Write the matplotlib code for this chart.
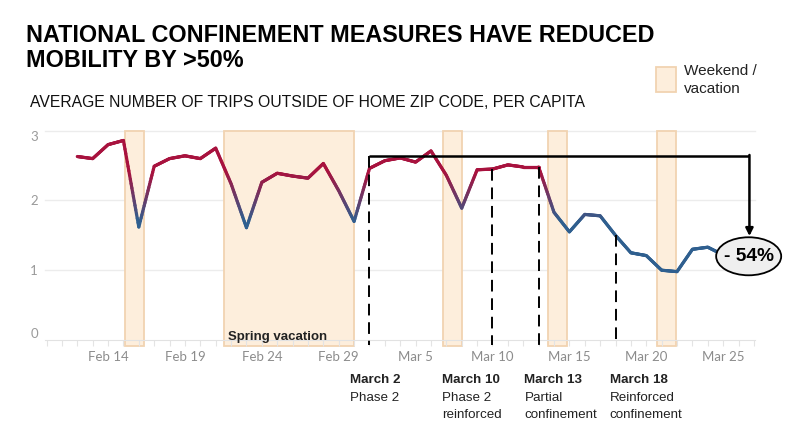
import numpy as np
import matplotlib
matplotlib.use("Agg")
import matplotlib.pyplot as plt
import matplotlib.dates as mdates
from matplotlib.collections import LineCollection
from matplotlib.colors import LinearSegmentedColormap, Normalize
from matplotlib.patches import Ellipse, Rectangle

plt.rcParams['font.family'] = ['Liberation Sans', 'DejaVu Sans']

# daily average trips outside home zip code, per capita
dates = np.arange(np.datetime64('2020-02-12'), np.datetime64('2020-03-26'))
trips = [2.63, 2.60, 2.80, 2.86, 1.62, 2.49, 2.60, 2.64, 2.60, 2.75,
         2.24, 1.61, 2.26, 2.39, 2.35, 2.32, 2.53, 2.14, 1.70, 2.46,
         2.57, 2.61, 2.55, 2.71, 2.36, 1.89, 2.44, 2.45, 2.51, 2.48,
         2.48, 1.83, 1.55, 1.80, 1.78, 1.50, 1.25, 1.21, 1.00, 0.98,
         1.30, 1.33, 1.22]

tick_dates = ['2020-02-14', '2020-02-19', '2020-02-24', '2020-02-29', '2020-03-05',
              '2020-03-10', '2020-03-15', '2020-03-20', '2020-03-25']
tick_labels = ['Feb 14', 'Feb 19', 'Feb 24', 'Feb 29', 'Mar 5',
               'Mar 10', 'Mar 15', 'Mar 20', 'Mar 25']

weekend_start = ['2020-02-15T02:00', '2020-03-06T18:00', '2020-03-13T14:00', '2020-03-20T16:00']
weekend_end = ['2020-02-16T08:00', '2020-03-08T01:00', '2020-03-14T21:00', '2020-03-21T22:00']
vacation_start = '2020-02-21T13:00'
vacation_end = '2020-03-01T00:00'

event_dates = ['2020-03-02', '2020-03-10', '2020-03-13', '2020-03-18']
event_titles = ['March 2', 'March 10', 'March 13', 'March 18']
event_texts = [['Phase 2'], ['Phase 2', 'reinforced'],
               ['Partial', 'confinement'], ['Reinforced', 'confinement']]

ref_level = 2.64
drop_label = '- 54%'

RED = '#a8123e'
BLUE = '#2f5f8f'
BAND = '#fdeedc'
BAND_EDGE = '#f1d3b1'


def d2n(s):
    return mdates.date2num(np.datetime64(s))


def px(x, y):
    return x / 788, 1 - y / 442


fig = plt.figure(figsize=(7.88, 4.42), dpi=100)
ax = fig.add_axes([45 / 788, 1 - 340 / 442, 710 / 788, 209.3 / 442])

x0 = d2n('2020-02-14')
ax.set_xlim(x0 - 4.1, x0 + 42.07)
ax.set_ylim(0, 3)

# weekend / vacation bands
below = -6 / 209.3
for s, e in zip(weekend_start + [vacation_start], weekend_end + [vacation_end]):
    ax.axvspan(d2n(s), d2n(e), ymin=below, ymax=1, facecolor=BAND,
               edgecolor=BAND_EDGE, lw=1.3, clip_on=False, zorder=1)
ax.text(d2n(vacation_start) + 0.28, 0.047, 'Spring vacation', fontsize=9.5,
        fontweight='bold', color='#222222', va='center', ha='left', zorder=3)

# gradient coloured line
xn = mdates.date2num(dates)
yv = np.array(trips)
segs, vals = [], []
for i in range(len(xn) - 1):
    t = np.linspace(0, 1, 21)
    xs = xn[i] + (xn[i + 1] - xn[i]) * t
    ys = yv[i] + (yv[i + 1] - yv[i]) * t
    for k in range(20):
        segs.append([(xs[k], ys[k]), (xs[k + 1], ys[k + 1])])
        vals.append((ys[k] + ys[k + 1]) / 2)
cmap = LinearSegmentedColormap.from_list('rb', [BLUE, RED])
lc = LineCollection(segs, cmap=cmap, norm=Normalize(1.7, 2.4), lw=2.3,
                    capstyle='round', joinstyle='round', zorder=4)
lc.set_array(np.array(vals))
ax.add_collection(lc)

# dashed event lines
for i, d in enumerate(event_dates):
    xd = d2n(d)
    top = ref_level if i == 0 else trips[list(dates).index(np.datetime64(d))]
    ax.plot([xd, xd], [top, -0.07], color='black', lw=1.4, ls=(0, (6, 3.5)),
            clip_on=False, zorder=5)

# bracket + arrow to the latest level
x_end = d2n('2020-03-26T17:00')
ax.plot([d2n(event_dates[0]), x_end], [ref_level, ref_level], color='black',
        lw=1.8, solid_capstyle='butt', zorder=6, clip_on=False)
ax.annotate('', xy=(x_end, 1.49), xytext=(x_end, ref_level + 0.012),
            arrowprops=dict(arrowstyle='-|>', color='black', lw=1.8,
                            mutation_scale=11, shrinkA=0, shrinkB=0),
            zorder=6, annotation_clip=False)
ax.add_patch(Ellipse((x_end - 0.05, 1.2), 4.23, 0.545, facecolor='#efefef',
                     edgecolor='black', lw=1.3, clip_on=False, zorder=7))
ax.text(x_end - 0.05, 1.2, drop_label, fontsize=13.8, fontweight='bold',
        ha='center', va='center', zorder=8)

# axes styling
ax.set_yticks([0, 1, 2, 3])
ax.set_yticklabels(['0', '1', '2', '3'])
ylabs = ax.get_yticklabels()
ylabs[0].set_va('bottom')
ylabs[-1].set_va('top')
ax.tick_params(axis='y', length=0, pad=5, labelsize=9.5, labelcolor='#9a9a9a')
for lab in ylabs:
    lab.set_family(['Lato', 'DejaVu Sans'])
ax.set_xticks([d2n(t) for t in tick_dates])
ax.set_xticklabels(tick_labels, family=['Lato', 'DejaVu Sans'])
ax.xaxis.set_minor_locator(mdates.DayLocator())
ax.tick_params(axis='x', which='both', length=4, width=0.8, color='#e4e4e4',
               labelsize=9.5, labelcolor='#8c8c8c', pad=4)
for sp in ['top', 'right', 'left']:
    ax.spines[sp].set_visible(False)
ax.spines['bottom'].set_color('#e2e2e2')
for g in [1, 2, 3]:
    ax.axhline(g, color='#ececec', lw=1, zorder=0, clip_on=False)

# titles
fig.text(*px(26, 41.7), 'NATIONAL CONFINEMENT MEASURES HAVE REDUCED',
         fontsize=16.8, fontweight='bold', va='baseline')
fig.text(*px(26, 66.7), 'MOBILITY BY >50%', fontsize=16.8, fontweight='bold',
         va='baseline')
fig.text(*px(30, 106.7), 'AVERAGE NUMBER OF TRIPS OUTSIDE OF HOME ZIP CODE, PER CAPITA',
         fontsize=11.3, va='baseline', color='#111111')

# legend
fig.patches.append(Rectangle(px(656, 91.7), 20 / 788, 24.4 / 442,
                             transform=fig.transFigure, facecolor=BAND,
                             edgecolor=BAND_EDGE, lw=1.3))
fig.text(*px(684, 75), 'Weekend /', fontsize=11, va='baseline', color='#222222')
fig.text(*px(684, 92.7), 'vacation', fontsize=11, va='baseline', color='#222222')

# event captions
event_x = [350, 442, 524.5, 609.5]
for xp, title, lines in zip(event_x, event_titles, event_texts):
    fig.text(*px(xp, 382.7), title, fontsize=9.6, fontweight='bold',
             va='baseline', color='#222222')
    for j, ln in enumerate(lines):
        fig.text(*px(xp, 401 + 17.3 * j), ln, fontsize=9.6, va='baseline',
                 color='#222222')

fig.savefig('out.png', dpi=100)
